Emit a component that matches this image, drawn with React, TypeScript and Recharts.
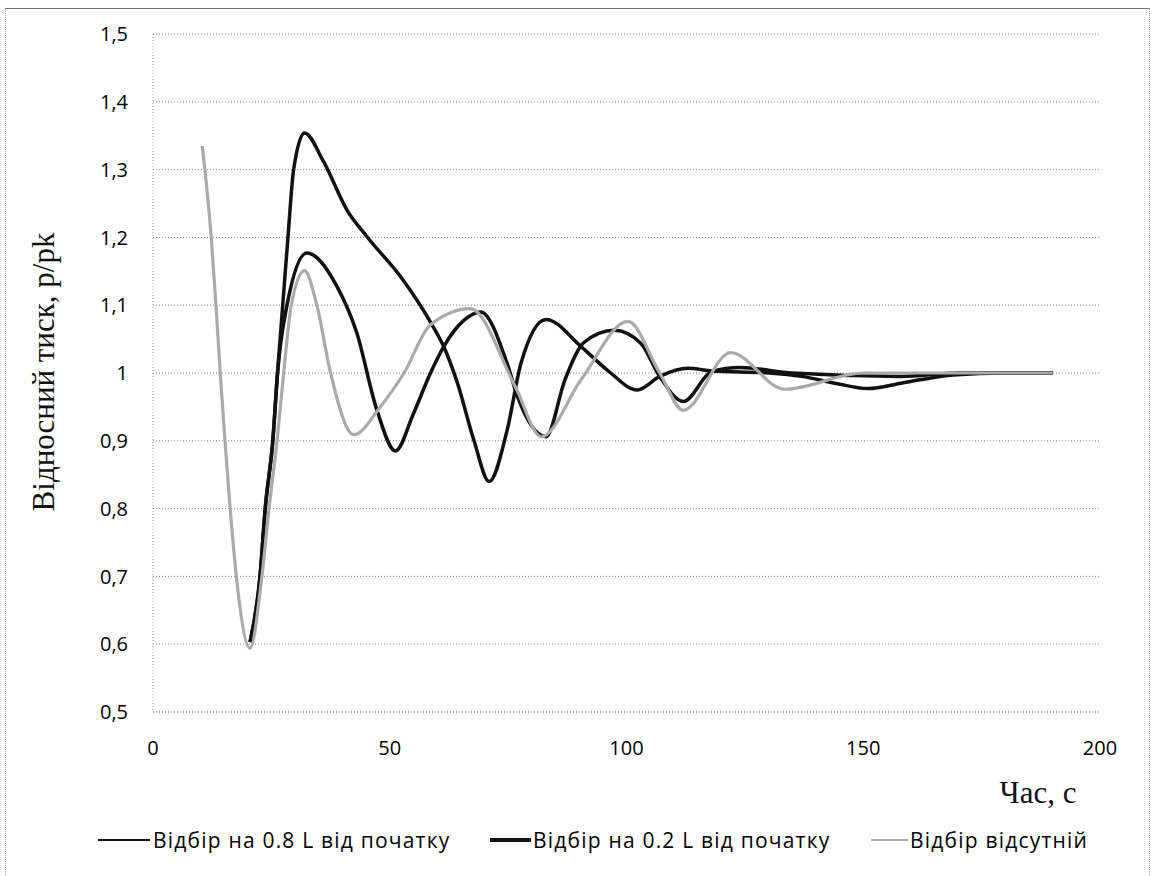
import React from 'react';
import { LineChart, Line, XAxis, YAxis, CartesianGrid } from 'recharts';

// Series 1: "Відбір на 0.8 L від початку"
const timeA = [20.5, 22.6, 23.7, 25.3, 26.3, 27.4, 28.5, 29.7, 32, 36, 41, 45.2, 52.5, 58.6, 61.4, 64.3, 67.8, 71, 74.8, 77.7, 83, 90.4, 96, 102.3, 107, 113, 118, 130, 137, 144, 151, 158, 162, 169, 180, 190];
const valuesA = [0.603, 0.7, 0.8, 0.9, 1.0, 1.1, 1.2, 1.3, 1.354, 1.312, 1.24, 1.201, 1.14, 1.075, 1.039, 0.985, 0.9, 0.84, 0.916, 1.014, 1.079, 1.039, 1.004, 0.975, 0.995, 1.007, 1.003, 1.0, 0.995, 0.985, 0.977, 0.985, 0.99, 0.997, 1.0, 1.0];

// Series 2: "Відбір на 0.2 L від початку"
const timeB = [20.5, 22.6, 23.7, 25.3, 26.3, 28.3, 32.5, 38.9, 43, 47.3, 51.2, 55, 58.6, 61.4, 65.7, 69.2, 74.8, 77, 83, 87, 91, 97.4, 103, 107, 112, 118, 124, 135, 158, 170, 190];
const valuesB = [0.603, 0.7, 0.8, 0.9, 1.0, 1.1, 1.177, 1.127, 1.06, 0.945, 0.885, 0.94, 1.0, 1.039, 1.078, 1.09, 1.014, 0.965, 0.906, 0.99, 1.045, 1.063, 1.044, 0.995, 0.958, 1.002, 1.008, 1.0, 0.995, 1.0, 1.0];

// Series 3: "Відбір відсутній"
const timeC = [10.4, 12.3, 13.3, 14.2, 15.2, 16.3, 17.6, 20.5, 23, 24.5, 26.2, 27.6, 29.2, 32, 34.6, 37.5, 42.4, 48, 53, 58.6, 67, 76.5, 82, 90.4, 100.3, 107, 112, 122, 133.4, 150, 170, 190];
const valuesC = [1.335, 1.2, 1.1, 1.0, 0.9, 0.8, 0.7, 0.594, 0.7, 0.8, 0.9, 1.0, 1.1, 1.151, 1.1, 1.0, 0.909, 0.95, 1.0, 1.071, 1.095, 0.98, 0.906, 0.99, 1.076, 1.0, 0.945, 1.03, 0.976, 1.0, 1.0, 1.0];

const seriesNames = ['Відбір на 0.8 L від початку', 'Відбір на 0.2 L від початку', 'Відбір відсутній'];

const xTicks = [0, 50, 100, 150, 200];
const yTicks = [0.5, 0.6, 0.7, 0.8, 0.9, 1.0, 1.1, 1.2, 1.3, 1.4, 1.5];
const yTickLabels = ['0,5', '0,6', '0,7', '0,8', '0,9', '1', '1,1', '1,2', '1,3', '1,4', '1,5'];

const xTitle = 'Час, с';
const yTitle = 'Відносний тиск, p/pk';

const dataA = timeA.map((t, i) => ({ t, v: valuesA[i] }));
const dataB = timeB.map((t, i) => ({ t, v: valuesB[i] }));
const dataC = timeC.map((t, i) => ({ t, v: valuesC[i] }));

const tickFont = { fontFamily: 'Open Sans', fontSize: 20, fill: '#000' };

const formatY = (v: number) => {
  const idx = yTicks.findIndex((t) => Math.abs(t - v) < 1e-6);
  return idx >= 0 ? yTickLabels[idx] : String(v);
};

const legendItems = [
  { name: seriesNames[0], color: '#111', width: 2.5, swatchLeft: 98, swatchW: 52, textLeft: 153 },
  { name: seriesNames[1], color: '#111', width: 3.5, swatchLeft: 490, swatchW: 41, textLeft: 533 },
  { name: seriesNames[2], color: '#aaa', width: 2.5, swatchLeft: 871, swatchW: 37, textLeft: 910 },
];

export default function App() {
  return (
    <div style={{ position: 'absolute', left: 0, top: 0, width: 1156, height: 876, background: '#fff', overflow: 'hidden' }}>
      <div style={{ position: 'absolute', left: 5, top: 8, width: 1145, height: 872, borderLeft: '1px dotted #aaa', borderRight: '1px dotted #aaa', borderTop: '1px solid #777', boxSizing: 'border-box' }} />
      <LineChart width={1156} height={876} margin={{ top: 34, right: 56, bottom: 0, left: 0 }}>
        <CartesianGrid vertical={false} stroke="#888" strokeDasharray="1 2" />
        <XAxis
          dataKey="t"
          type="number"
          domain={[0, 200]}
          ticks={xTicks}
          height={164}
          tick={tickFont}
          tickLine={false}
          tickSize={0}
          tickMargin={29}
          axisLine={{ stroke: '#888', strokeDasharray: '1 2' }}
          label={() => (
            <text x={1038} y={803} textAnchor="middle" fontFamily="Liberation Serif" fontSize={31} fill="#111">{xTitle}</text>
          )}
        />
        <YAxis
          type="number"
          domain={[0.5, 1.5]}
          ticks={yTicks}
          width={153}
          tick={tickFont}
          tickFormatter={formatY}
          tickLine={false}
          tickSize={0}
          tickMargin={25}
          axisLine={{ stroke: '#999', strokeDasharray: '1 2' }}
          label={() => (
            <text x={54} y={372} transform="rotate(-90, 54, 372)" textAnchor="middle" fontFamily="Liberation Serif" fontSize={31} fill="#111">{yTitle}</text>
          )}
        />
        <Line data={dataA} dataKey="v" name={seriesNames[0]} type="monotone" stroke="#111" strokeWidth={3.5} dot={false} isAnimationActive={false} />
        <Line data={dataB} dataKey="v" name={seriesNames[1]} type="monotone" stroke="#111" strokeWidth={3.5} dot={false} isAnimationActive={false} />
        <Line data={dataC} dataKey="v" name={seriesNames[2]} type="monotone" stroke="#aaa" strokeWidth={3.2} dot={false} isAnimationActive={false} />
      </LineChart>
      {legendItems.map((it) => (
        <React.Fragment key={it.name}>
          <div style={{ position: 'absolute', left: it.swatchLeft, top: 840 - it.width / 2, width: it.swatchW, height: it.width, background: it.color }} />
          <div style={{ position: 'absolute', left: it.textLeft, top: 825, fontFamily: 'Open Sans', fontSize: 21, letterSpacing: 1.2, lineHeight: '30px', color: '#000', whiteSpace: 'nowrap' }}>{it.name}</div>
        </React.Fragment>
      ))}
    </div>
  );
}
